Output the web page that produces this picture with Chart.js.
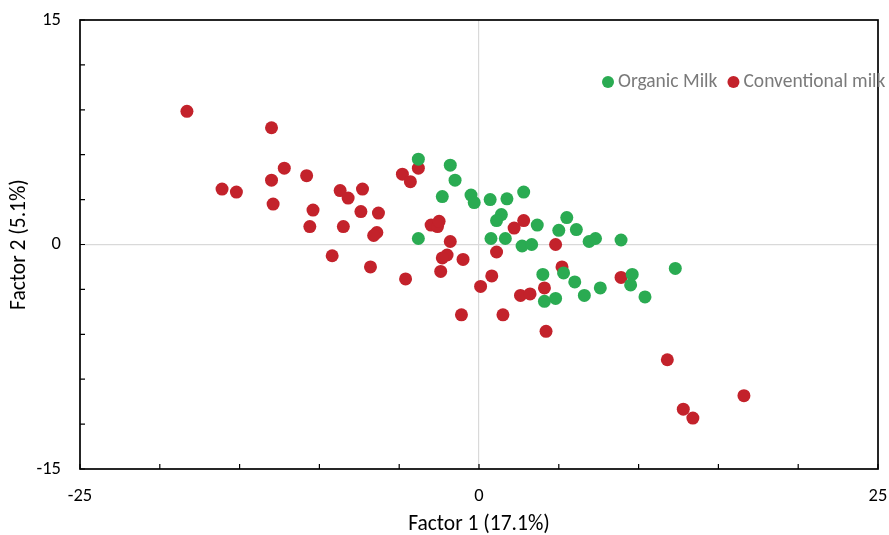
<!DOCTYPE html>
<html>
<head>
<meta charset="utf-8">
<title>Factor scores</title>
<script src="https://cdn.jsdelivr.net/npm/chart.js@4/dist/chart.umd.min.js"></script>
<style>
    html, body { margin: 0; padding: 0; background: #fff; }
    #chartBox { width: 889px; height: 535px; }
</style>
</head>
<body>
<div id="chartBox"><canvas id="scoresChart" width="889" height="535"></canvas></div>
<script>
const seriesNames = ["Organic Milk", "Conventional milk"];

// Organic milk scores (Factor 1, Factor 2)
const organicX = [-3.8, -1.8, -1.5, -2.3, -0.5, -0.3, 0.7, 1.75, 2.8, 1.4, 1.1, -3.8, 0.75, 1.65, 2.7, 3.3, 3.65,
    5.0, 5.5, 6.1, 6.9, 7.3, 8.9, 12.3, 4.0, 5.3, 6.0, 7.6, 6.6, 4.8, 4.1, 9.6, 9.5, 10.4];
const organicY = [5.7, 5.3, 4.3, 3.2, 3.3, 2.8, 3.0, 3.05, 3.5, 2.0, 1.6, 0.4, 0.4, 0.4, -0.1, 0.0, 1.3,
    0.95, 1.8, 1.0, 0.2, 0.4, 0.3, -1.6, -2.0, -1.9, -2.5, -2.9, -3.4, -3.6, -3.8, -2.0, -2.7, -3.5];

// Conventional milk scores (Factor 1, Factor 2)
const conventionalX = [-18.3, -13.0, -12.2, -10.8, -16.1, -15.2, -13.0, -12.9, -10.4, -10.6, -8.7, -8.2, -7.3,
    -7.4, -6.3, -8.5, -6.4, -6.6, -4.8, -4.3, -3.8, -9.2, -6.8, -4.6, -3.0, -2.6, -2.5, -1.8, -2.0, -2.3,
    -2.4, -1.0, -1.1, 0.1, 0.8, 1.1, 1.5, 2.2, 2.8, 2.6, 3.2, 4.8, 5.2, 4.1, 4.2, 8.9, 11.8, 16.6, 12.8, 13.4];
const conventionalY = [8.9, 7.8, 5.1, 4.6, 3.7, 3.5, 4.3, 2.7, 2.3, 1.2, 3.6, 3.1, 3.7,
    2.2, 2.1, 1.2, 0.8, 0.6, 4.7, 4.2, 5.1, -0.75, -1.5, -2.3, 1.3, 1.2, 1.55, 0.2, -0.7, -0.9,
    -1.8, -1.0, -4.7, -2.8, -2.1, -0.5, -4.7, 1.1, 1.6, -3.4, -3.3, 0.0, -1.5, -2.9, -5.8, -2.2, -7.7, -10.1, -11.0, -11.6];

const xTickLabels = [-25, 0, 25];
const yTickLabels = [-15, 0, 15];

const seriesColors = ["#2aab52", "#c3222b"];
const fontFamily = "Carlito, Calibri, Lato, sans-serif";

function toPoints(xs, ys)
{
    return xs.map((x, i) => ({ x: x, y: ys[i] }));
}

// frame on all four sides plus the short inward tick marks
const framePlugin = {
    id: "frame",
    afterDraw(chart)
    {
        const { ctx, chartArea, scales } = chart;
        ctx.save();
        ctx.strokeStyle = "#000";
        ctx.lineWidth = 1.7;
        ctx.strokeRect(chartArea.left, chartArea.top, chartArea.width, chartArea.height);

        ctx.lineWidth = 1.2;
        ctx.beginPath();
        for (let v = -25; v <= 25; v += 5)
        {
            const px = scales.x.getPixelForValue(v);
            ctx.moveTo(px, chartArea.bottom);
            ctx.lineTo(px, chartArea.bottom - 5);
        }
        for (let v = -15; v <= 15; v += 3)
        {
            const py = scales.y.getPixelForValue(v);
            ctx.moveTo(chartArea.left, py);
            ctx.lineTo(chartArea.left + 5, py);
        }
        ctx.stroke();
        ctx.restore();
    }
};

// legend sitting inside the plot, top right
const insideLegend = {
    id: "insideLegend",
    afterDraw(chart)
    {
        const { ctx } = chart;
        let x = 602;
        const y = 82;
        ctx.save();
        ctx.font = "19.5px " + fontFamily;
        ctx.textBaseline = "middle";
        chart.data.datasets.forEach(ds =>
        {
            ctx.fillStyle = ds.backgroundColor;
            ctx.beginPath();
            ctx.arc(x + 6, y, 6, 0, Math.PI * 2);
            ctx.fill();
            ctx.fillStyle = "#7a7a7a";
            ctx.fillText(ds.label, x + 16, y);
            x += 16 + ctx.measureText(ds.label).width + 10;
        });
        ctx.restore();
    }
};

function zeroLine(ctx)
{
    return ctx.tick && ctx.tick.value === 0 ? "#d9d9d9" : "rgba(0,0,0,0)";
}

new Chart(document.getElementById("scoresChart"), {
    type: "scatter",
    data: {
        datasets: [
            {
                label: seriesNames[0],
                data: toPoints(organicX, organicY),
                backgroundColor: seriesColors[0],
                borderWidth: 0,
                pointRadius: 6.5,
                pointHoverRadius: 6.5
            },
            {
                label: seriesNames[1],
                data: toPoints(conventionalX, conventionalY),
                backgroundColor: seriesColors[1],
                borderWidth: 0,
                pointRadius: 6.5,
                pointHoverRadius: 6.5
            }
        ]
    },
    options: {
        responsive: false,
        animation: false,
        layout: { padding: { left: 0, top: 20, right: 11, bottom: 0 } },
        plugins: {
            legend: { display: false },
            tooltip: { enabled: false }
        },
        scales: {
            x: {
                type: "linear",
                min: -25,
                max: 25,
                afterFit(scale)
                {
                    scale.height = 66;
                    scale.paddingLeft = 0;
                    scale.paddingRight = 0;
                },
                ticks: {
                    stepSize: 5,
                    autoSkip: false,
                    maxRotation: 0,
                    padding: 16,
                    color: "#000",
                    font: { family: fontFamily, size: 18.5 },
                    callback: v => xTickLabels.includes(v) ? v : ""
                },
                grid: { color: zeroLine, lineWidth: 1.2, drawTicks: false },
                border: { display: false },
                title: {
                    display: true,
                    text: "Factor 1 (17.1%)",
                    color: "#000",
                    font: { family: fontFamily, size: 21.5, lineHeight: 1 },
                    padding: { top: 0, bottom: 0 }
                }
            },
            y: {
                type: "linear",
                min: -15,
                max: 15,
                afterFit(scale)
                {
                    scale.width = 80;
                    scale.paddingTop = 0;
                    scale.paddingBottom = 0;
                },
                ticks: {
                    stepSize: 3,
                    autoSkip: false,
                    padding: 19,
                    color: "#000",
                    font: { family: fontFamily, size: 18.5 },
                    callback: v => yTickLabels.includes(v) ? v : ""
                },
                grid: { color: zeroLine, lineWidth: 1.2, drawTicks: false },
                border: { display: false },
                title: {
                    display: true,
                    text: "Factor 2 (5.1%)",
                    color: "#000",
                    font: { family: fontFamily, size: 21.5, lineHeight: 1 },
                    padding: { top: 9, bottom: 0 }
                }
            }
        }
    },
    plugins: [framePlugin, insideLegend]
});
</script>
</body>
</html>
